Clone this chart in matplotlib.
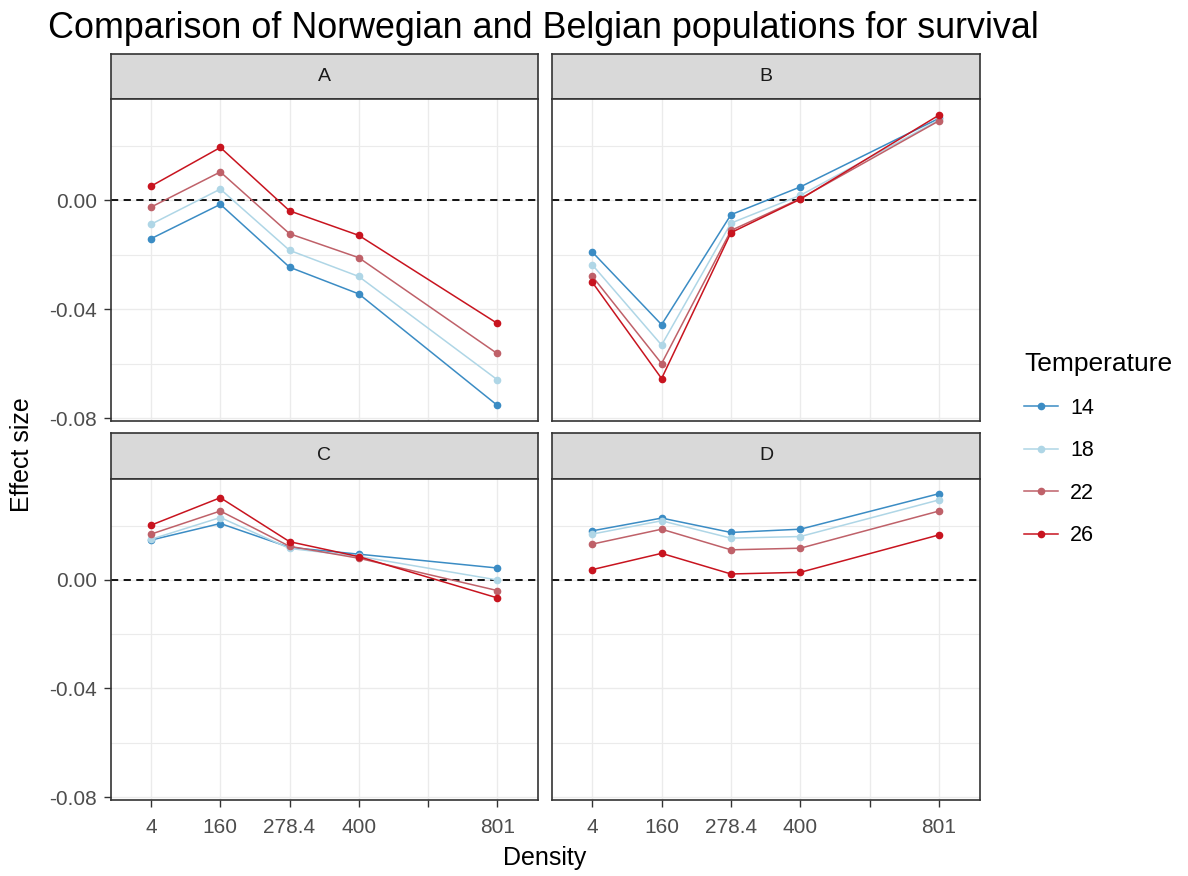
import matplotlib.pyplot as plt
from matplotlib.ticker import FixedLocator, FuncFormatter

plt.rcParams['font.family'] = ['Liberation Sans', 'DejaVu Sans']

# x positions are evenly spaced categories, 5th tick has no label
x_pos = [1, 2, 3, 4, 6]
x_ticks = [1, 2, 3, 4, 5, 6]
x_labels = ["4", "160", "278.4", "400", "", "801"]

temps = ["14", "18", "22", "26"]
colors = {"14": "#3B8CC4", "18": "#AFD6E6", "22": "#BF6169", "26": "#C8141F"}

panel_A = {
    "14": [-0.0141, -0.0015, -0.0246, -0.0344, -0.0753],
    "18": [-0.0088, 0.0041, -0.0184, -0.0280, -0.0659],
    "22": [-0.0025, 0.0104, -0.0123, -0.0211, -0.0563],
    "26": [0.0052, 0.0194, -0.0039, -0.0129, -0.0452],
}
panel_B = {
    "14": [-0.0190, -0.0457, -0.0053, 0.0049, 0.0301],
    "18": [-0.0237, -0.0532, -0.0084, 0.0018, 0.0295],
    "22": [-0.0279, -0.0600, -0.0111, 0.0006, 0.0292],
    "26": [-0.0301, -0.0655, -0.0119, 0.0004, 0.0313],
}
panel_C = {
    "14": [0.0147, 0.0208, 0.0120, 0.0095, 0.0044],
    "18": [0.0150, 0.0230, 0.0116, 0.0087, 0.0000],
    "22": [0.0169, 0.0254, 0.0124, 0.0080, -0.0039],
    "26": [0.0202, 0.0303, 0.0141, 0.0086, -0.0066],
}
panel_D = {
    "14": [0.0181, 0.0228, 0.0175, 0.0187, 0.0318],
    "18": [0.0169, 0.0218, 0.0154, 0.0160, 0.0295],
    "22": [0.0132, 0.0187, 0.0111, 0.0117, 0.0254],
    "26": [0.0038, 0.0098, 0.0022, 0.0028, 0.0166],
}
panels = {"A": panel_A, "B": panel_B, "C": panel_C, "D": panel_D}

W, H = 1188, 876
fig = plt.figure(figsize=(W / 100, H / 100), dpi=100)


def px_axes(x0, y0, x1, y1):
    # pixel box (top-left origin) -> figure axes
    return fig.add_axes([x0 / W, 1 - y1 / H, (x1 - x0) / W, (y1 - y0) / H])


border = "#333333"
cols = [(111, 538), (552, 980)]
rows = [(54, 99, 421), (433, 479, 800)]
layout = {"A": (0, 0), "B": (0, 1), "C": (1, 0), "D": (1, 1)}

for name, (r, c) in layout.items():
    x0, x1 = cols[c]
    s0, p0, p1 = rows[r]

    strip = px_axes(x0, s0, x1, p0)
    strip.set_facecolor("#D9D9D9")
    strip.set_xticks([])
    strip.set_yticks([])
    for sp in strip.spines.values():
        sp.set_color(border)
        sp.set_linewidth(1.2)
    strip.text(0.5, 0.5, name, ha="center", va="center", fontsize=14, color="#1A1A1A",
               transform=strip.transAxes)

    ax = px_axes(x0, p0, x1, p1)
    ax.set_xlim(0.42, 6.59)
    ax.set_ylim(-0.0811, 0.0372)
    ax.xaxis.set_major_locator(FixedLocator(x_ticks))
    ax.yaxis.set_major_locator(FixedLocator([-0.08, -0.04, 0.0]))
    ax.yaxis.set_minor_locator(FixedLocator([-0.06, -0.02, 0.02]))
    ax.grid(True, which="major", color="#EBEBEB", linewidth=1.0)
    ax.grid(True, which="minor", axis="y", color="#EBEBEB", linewidth=0.8)
    ax.tick_params(which="minor", length=0)
    ax.set_axisbelow(True)
    for sp in ax.spines.values():
        sp.set_color(border)
        sp.set_linewidth(1.2)

    ax.axhline(0, color="black", linestyle=(0, (4, 3)), linewidth=1.3, zorder=1)
    for t in temps:
        ax.plot(x_pos, panels[name][t], color=colors[t], linewidth=1.1, marker="o",
                markersize=4.5, label=t, zorder=3)

    ax.tick_params(axis="both", colors="#333333", length=5, width=1, labelsize=15,
                   labelcolor="#4D4D4D")
    ax.tick_params(axis="x", pad=8)
    ax.tick_params(axis="y", pad=5)
    if r == 1:
        ax.set_xticklabels(x_labels)
    else:
        ax.tick_params(axis="x", length=0, labelbottom=False)
    if c == 0:
        ax.yaxis.set_major_formatter(FuncFormatter(lambda v, p: f"{v:.2f}".replace("-0.00", "0.00")))
    else:
        ax.tick_params(axis="y", length=0, labelleft=False)
    if name == "B":
        handles, labels = ax.get_legend_handles_labels()

fig.text(48 / W, 1 - 28 / H, "Comparison of Norwegian and Belgian populations for survival",
         fontsize=25.8, ha="left", va="center", color="black")
fig.text(545 / W, 1 - 858 / H, "Density", fontsize=18, ha="center", va="center")
fig.text(22 / W, 1 - 455 / H, "Effect size", fontsize=18, ha="center", va="center", rotation=90)

fig.legend(handles, labels, title="Temperature", loc="upper left",
           bbox_to_anchor=(1024 / W, 1 - 352 / H), frameon=False, fontsize=15.5,
           title_fontsize=19, labelspacing=1.0, handlelength=1.6, handletextpad=0.55,
           borderpad=0, borderaxespad=0, alignment="left")

fig.savefig("out.png", dpi=100)
